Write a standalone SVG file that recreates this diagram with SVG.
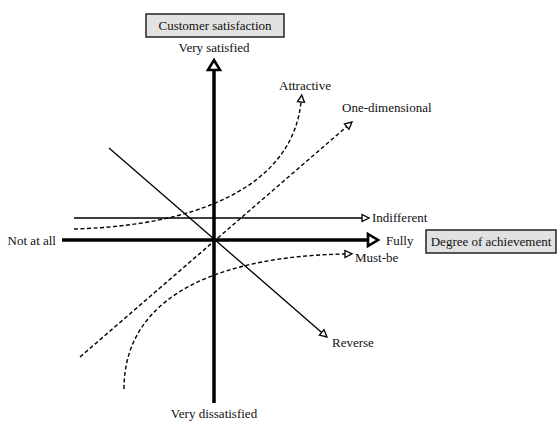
<svg xmlns="http://www.w3.org/2000/svg" width="559" height="421" viewBox="0 0 559 421">
<style>
.lbl{font-family:'Liberation Serif','Times New Roman',Times,serif;font-size:13px;fill:#111}
.axis{stroke:#000;stroke-width:3.5;fill:none}
.thin{stroke:#000;stroke-width:1.3;fill:none}
.dash{stroke:#000;stroke-width:1.4;fill:none;stroke-dasharray:4,2.5}
.box{fill:#e2e2e2;stroke:#222;stroke-width:1.5}
</style>
<defs>
<marker id="big" markerUnits="userSpaceOnUse" markerWidth="16" markerHeight="16" viewBox="0 0 16 16" refX="2" refY="8" orient="auto">
<path d="M2,2 L12,8 L2,14 Z" fill="#fff" stroke="#000" stroke-width="2.6" stroke-linejoin="miter"/>
</marker>
<marker id="small" markerUnits="userSpaceOnUse" markerWidth="12" markerHeight="12" viewBox="0 0 12 12" refX="1" refY="6" orient="auto">
<path d="M1,2.5 L8,6 L1,9.5 Z" fill="#fff" stroke="#000" stroke-width="1.3"/>
</marker>
</defs>
<g id="connectors">
<line id="y-axis" class="axis" x1="214" y1="403" x2="214" y2="70" marker-end="url(#big)"/>
<line id="x-axis" class="axis" x1="62" y1="240" x2="368" y2="240" marker-end="url(#big)"/>
<line id="indifferent-line" class="thin" x1="74" y1="218" x2="362" y2="218" marker-end="url(#small)"/>
<line id="reverse-line" class="thin" x1="109" y1="148" x2="321.7" y2="332.4" marker-end="url(#small)"/>
<line id="one-dim-line" class="dash" x1="80" y1="357" x2="346.7" y2="126.6" marker-end="url(#small)"/>
<path id="attractive-curve" class="dash" d="M74,229 C190,226 292,190 301,102" marker-end="url(#small)"/>
<path id="mustbe-curve" class="dash" d="M124,389 C124,290 230,256 345,254" marker-end="url(#small)"/>
</g>
<g font-family="'Liberation Serif', 'Times New Roman', serif" font-size="13">
<g id="customer-satisfaction">
<rect class="box" x="146" y="14" width="138" height="23"/>
<text class="lbl" x="215" y="30" text-anchor="middle">Customer satisfaction</text>
</g>
<g id="degree-of-achievement">
<rect class="box" x="426" y="230" width="130" height="23"/>
<text class="lbl" x="491" y="246" text-anchor="middle">Degree of achievement</text>
</g>
<g id="very-satisfied"><text class="lbl" x="214" y="52" text-anchor="middle">Very satisfied</text></g>
<g id="very-dissatisfied"><text class="lbl" x="214" y="418" text-anchor="middle">Very dissatisfied</text></g>
<g id="not-at-all"><text class="lbl" x="56" y="245" text-anchor="end">Not at all</text></g>
<g id="fully"><text class="lbl" x="386" y="245">Fully</text></g>
<g id="indifferent"><text class="lbl" x="372" y="222">Indifferent</text></g>
<g id="must-be"><text class="lbl" x="355" y="262">Must-be</text></g>
<g id="reverse"><text class="lbl" x="332" y="347">Reverse</text></g>
<g id="attractive"><text class="lbl" x="279" y="90">Attractive</text></g>
<g id="one-dimensional"><text class="lbl" x="342" y="112">One-dimensional</text></g>
</g>
</svg>
